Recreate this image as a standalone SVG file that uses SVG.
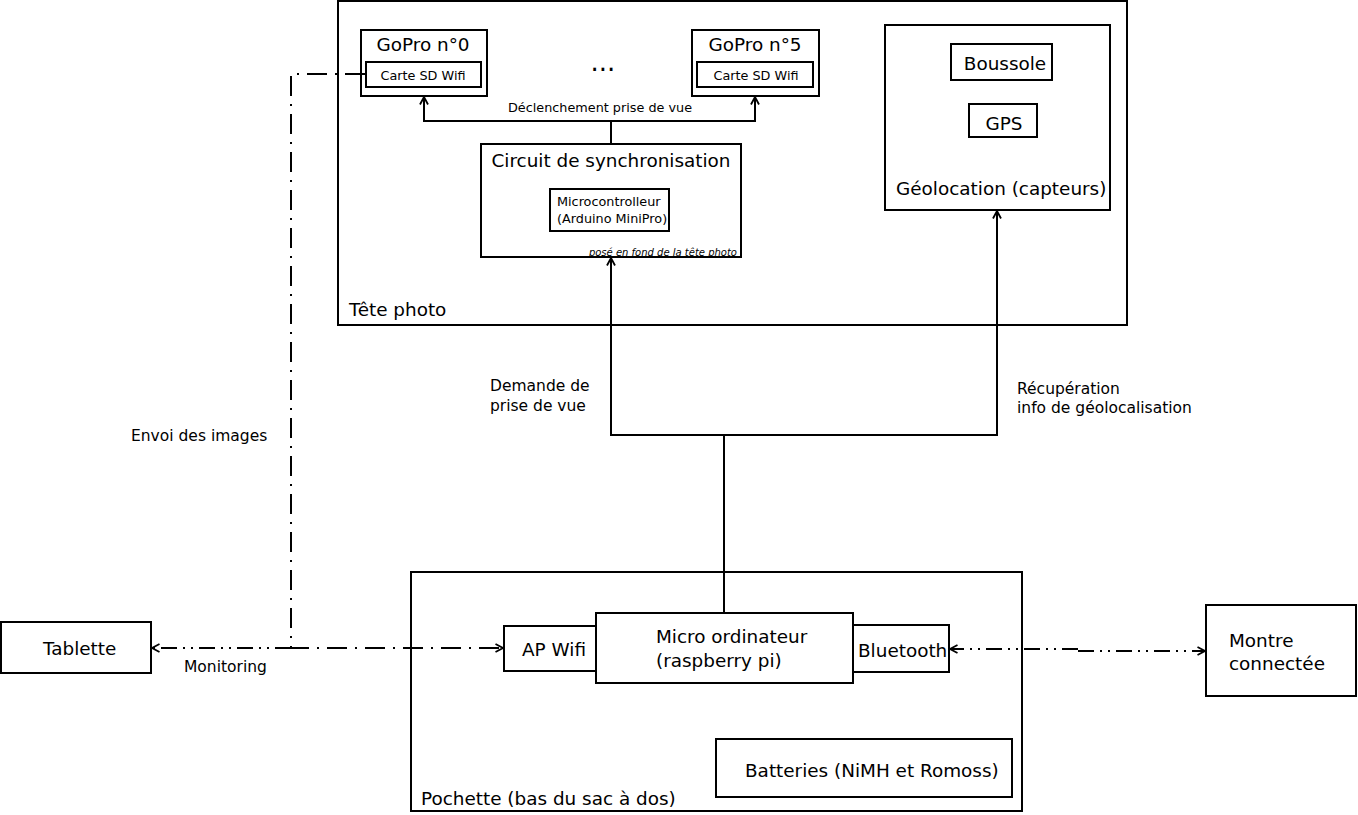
<svg xmlns="http://www.w3.org/2000/svg" width="1358" height="815" viewBox="0 0 1358 815">
<style>
rect{fill:#fff;stroke:#000;stroke-width:2}
text{font-family:"DejaVu Sans","Liberation Sans",sans-serif;fill:#000}
.l{font-size:18.4px}
.m{font-size:15.5px}
.s{font-size:12.8px}
.i{font-size:10px;font-style:italic}
.c{text-anchor:middle}
.w{fill:none;stroke:#000;stroke-width:2}
.dd{fill:none;stroke:#000;stroke-width:2;stroke-dasharray:20 8 2 8}
.ddd{fill:none;stroke:#000;stroke-width:2;stroke-dasharray:16 6 2 6 2 6}
</style>
<defs>
<marker id="a" viewBox="0 0 10 10" refX="9.5" refY="5" markerWidth="10" markerHeight="10" orient="auto-start-reverse" markerUnits="userSpaceOnUse">
<path d="M2,1 L9.5,5 L2,9" fill="none" stroke="#000" stroke-width="1.8"/>
</marker>
</defs>
<rect width="1358" height="815" style="fill:#fff;stroke:none"/>

<g id="tete-photo">
<rect x="338" y="1" width="789" height="324"/>
<text class="l" x="349" y="316">Tête photo</text>
</g>
<g id="gopro0">
<rect x="361" y="30" width="126" height="66"/>
<text class="l c" x="423" y="51">GoPro n°0</text>
<rect x="366" y="62" width="115" height="25"/>
<text class="s c" x="423" y="80">Carte SD Wifi</text>
</g>
<g id="ellipsis"><text class="c" x="603" y="71" style="font-size:26px">...</text></g>
<g id="gopro5">
<rect x="692" y="30" width="127" height="66"/>
<text class="l c" x="755" y="51">GoPro n°5</text>
<rect x="697" y="62" width="116" height="25"/>
<text class="s c" x="756" y="80">Carte SD Wifi</text>
</g>
<g id="sync">
<rect x="481" y="144" width="260" height="113"/>
<text class="l c" x="611" y="167">Circuit de synchronisation</text>
<rect x="550" y="189" width="119" height="42"/>
<text class="s" x="557" y="206">Microcontrolleur</text>
<text class="s" x="557" y="223">(Arduino MiniPro)</text>
<text class="i" x="737" y="256" text-anchor="end">posé en fond de la tête photo</text>
</g>
<g id="geoloc">
<rect x="885" y="25" width="225" height="185"/>
<rect x="951" y="44" width="101" height="36"/>
<text class="l c" x="1005" y="70">Boussole</text>
<rect x="969" y="104" width="68" height="33"/>
<text class="l c" x="1004" y="130">GPS</text>
<text class="l" x="896" y="195">Géolocation (capteurs)</text>
</g>
<g id="pochette">
<rect x="411" y="572" width="611" height="239"/>
<text class="l" x="421" y="805">Pochette (bas du sac à dos)</text>
</g>
<g id="apwifi">
<rect x="504" y="626" width="92" height="45"/>
<text class="l" x="522" y="656">AP Wifi</text>
</g>
<g id="bluetooth">
<rect x="852" y="625" width="97" height="47"/>
<text class="l" x="858" y="657">Bluetooth</text>
</g>
<g id="micro">
<rect x="596" y="613" width="257" height="70"/>
<text class="l" x="656" y="643">Micro ordinateur</text>
<text class="l" x="656" y="667">(raspberry pi)</text>
</g>
<g id="batteries">
<rect x="716" y="739" width="296" height="58"/>
<text class="l" x="745" y="777">Batteries (NiMH et Romoss)</text>
</g>
<g id="tablette">
<rect x="1" y="622" width="150" height="51"/>
<text class="l" x="43" y="655">Tablette</text>
</g>
<g id="montre">
<rect x="1206" y="605" width="150" height="91"/>
<text class="l" x="1229" y="647">Montre</text>
<text class="l" x="1229" y="670">connectée</text>
</g>

<g id="connectors">
<path class="w" d="M611,143 V121 M424,121 H755" />
<path class="w" d="M611,121 H424 V97" marker-end="url(#a)"/>
<path class="w" d="M611,121 H755 V97" marker-end="url(#a)"/>
<path class="w" d="M724,612 V435 H611 V258" marker-end="url(#a)"/>
<path class="w" d="M724,435 H997 V211" marker-end="url(#a)"/>
<path class="dd" d="M365,74 H291 V648 H503" marker-end="url(#a)"/>
<path class="ddd" d="M291,648 H152" marker-end="url(#a)"/>
<path class="ddd" d="M1078,649 H950" marker-end="url(#a)"/>
<path class="ddd" d="M1078,651 H1205" marker-end="url(#a)"/>
<text class="s c" x="600" y="112">Déclenchement prise de vue</text>
<text class="m" x="490" y="391">Demande de</text>
<text class="m" x="490" y="411">prise de vue</text>
<text class="m" x="1017" y="394">Récupération</text>
<text class="m" x="1017" y="413">info de géolocalisation</text>
<text class="m" x="131" y="441">Envoi des images</text>
<text class="m" x="184" y="672">Monitoring</text>
</g>
</svg>
